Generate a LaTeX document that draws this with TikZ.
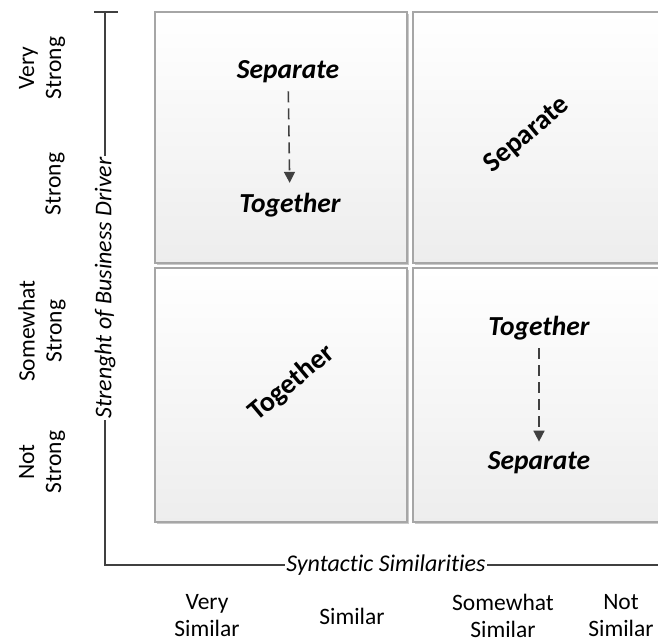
\documentclass[tikz,border=0pt]{standalone}
\usepackage{fontspec}
\setmainfont{Carlito}[Ligatures={NoCommon}]
\usetikzlibrary{arrows.meta,shadows}
\definecolor{axisgray}{HTML}{404040}
\definecolor{boxborder}{HTML}{A6A6A6}
\tikzset{
  quad/.style={draw=boxborder, line width=1.2pt, top color=white, bottom color=black!7,
    drop shadow={shadow xshift=2pt, shadow yshift=-2pt, fill=black!35, opacity=0.6},
    inner sep=0pt},
  qlabel/.style={font=\fontsize{27.5}{30}\selectfont\bfseries\itshape, inner sep=0pt},
  rlabel/.style={font=\fontsize{28}{30}\selectfont\bfseries, inner sep=0pt, rotate=40},
  axis/.style={draw=axisgray, line width=1.8pt},
  axlabel/.style={font=\fontsize{24}{27}\selectfont\itshape, fill=white, inner sep=1.5pt},
  tick/.style={font=\fontsize{23.5}{27}\selectfont, align=center, inner sep=0pt},
  dasharrow/.style={draw=axisgray, line width=1.6pt, dash pattern=on 11pt off 6pt,
    -{Triangle[width=11pt,length=11pt]}, shorten <=8pt, shorten >=10pt}
}
\begin{document}
\begin{tikzpicture}[x=1pt,y=-1pt]
\useasboundingbox (0,0) rectangle (658,643);
\clip (0,0) rectangle (658,643);
% quadrants
\node[quad, minimum width=252pt, minimum height=251pt] (tl) at (281,137.5) {};
\node[quad, minimum width=252pt, minimum height=251pt] (tr) at (539,137.5) {};
\node[quad, minimum width=252pt, minimum height=254pt] (bl) at (281,395) {};
\node[quad, minimum width=252pt, minimum height=254pt] (br) at (539,395) {};
% quadrant texts
\node[qlabel] (tlS) at (288,72) {Separate};
\node[qlabel] (tlT) at (290,205) {Together};
\draw[dasharrow] (tlS) -- (tlT);
\node[rlabel] (trS) at (527,135) {Separate};
\node[rlabel] (blT) at (292,383) {Together};
\node[qlabel] (brT) at (539,328) {Together};
\node[qlabel] (brS) at (539,463) {Separate};
\draw[dasharrow] (brT) -- (brS);
% axes
\coordinate (top) at (105,12);
\coordinate (corner) at (105,565);
\coordinate (right) at (660,565);
\coordinate (tickL) at (94,12);
\coordinate (tickR) at (118,12);
\draw[axis] (tickL) -- (tickR);
\draw[axis] (top) -- (corner) -- (right);
\node[axlabel, rotate=90] (ylab) at (105,288) {Strenght of Business Driver};
\node[axlabel] (xlab) at (386,565) {Syntactic Similarities};
% row labels
\node[tick, rotate=90] (r1) at (42,68) {Very\\Strong};
\node[tick, rotate=90] (r2) at (55,184) {Strong};
\node[tick, rotate=90] (r3) at (42,331) {Somewhat\\Strong};
\node[tick, rotate=90] (r4) at (42,462) {Not\\Strong};
% column labels
\node[tick] (c1) at (207,616) {Very\\Similar};
\node[tick] (c2) at (352,616) {Similar};
\node[tick] (c3) at (503,616) {Somewhat\\Similar};
\node[tick] (c4) at (621,616) {Not\\Similar};
\end{tikzpicture}
\end{document}
